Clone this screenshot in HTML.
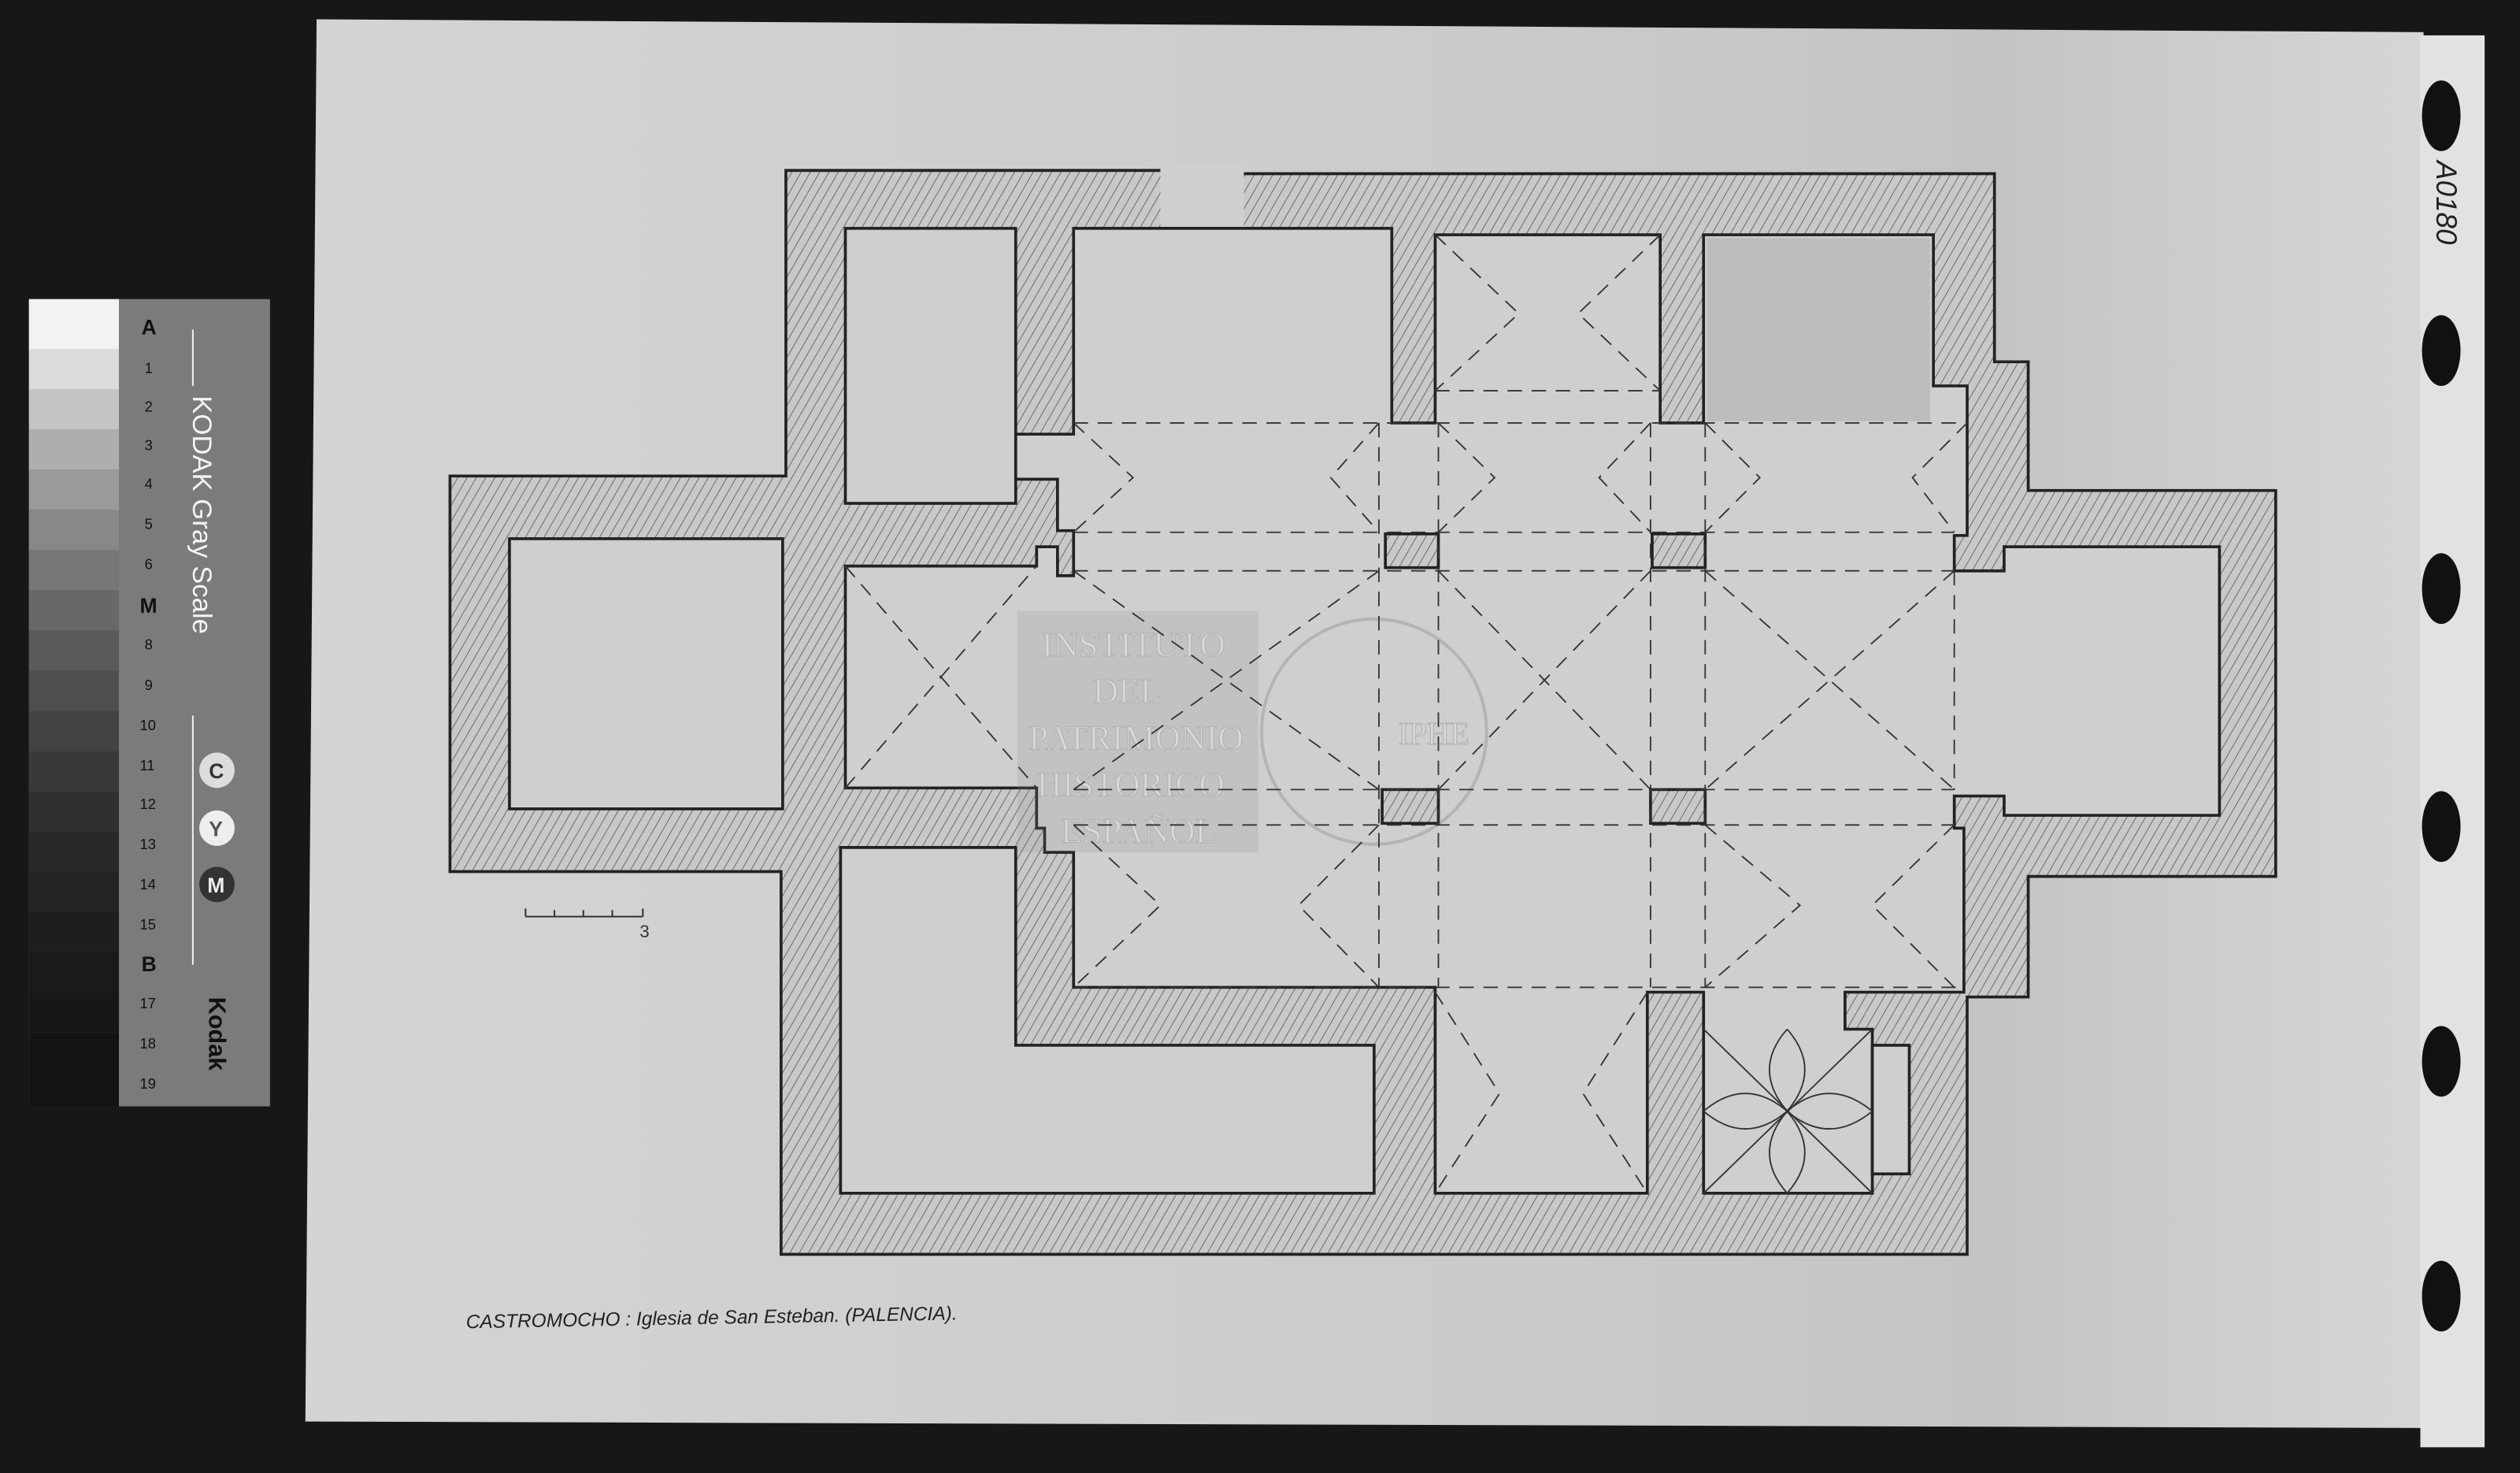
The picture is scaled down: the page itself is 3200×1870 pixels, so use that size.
<!DOCTYPE html>
<html><head><meta charset="utf-8"><style>
html,body{margin:0;padding:0;background:#161616;}
svg{display:block;}
</style></head><body>
<svg width="3200" height="1870" viewBox="0 0 1568 916" preserveAspectRatio="none" xmlns="http://www.w3.org/2000/svg">
<defs>
<pattern id="h" patternUnits="userSpaceOnUse" width="5" height="5" patternTransform="rotate(30)">
<rect width="5" height="5" fill="#c8c8c8"/><line x1="0" y1="0" x2="0" y2="5" stroke="#555" stroke-width="0.8"/>
</pattern>
<linearGradient id="pg" x1="0" x2="1" y1="0" y2="0">
<stop offset="0" stop-color="#d4d4d4"/><stop offset="0.55" stop-color="#cbcbcb"/><stop offset="0.8" stop-color="#c4c4c4"/><stop offset="1" stop-color="#d6d6d6"/>
</linearGradient>
</defs>
<rect width="1568" height="916" fill="#171717"/>
<polygon points="197,12 1508,20 1508,888 190,884" fill="url(#pg)"/>
<rect x="1506" y="22" width="40" height="878" fill="#e2e2e2"/>
<g fill="#111">
<ellipse cx="1519" cy="72" rx="12" ry="22"/><ellipse cx="1519" cy="218" rx="12" ry="22"/>
<ellipse cx="1519" cy="366" rx="12" ry="22"/><ellipse cx="1519" cy="514" rx="12" ry="22"/>
<ellipse cx="1519" cy="660" rx="12" ry="22"/><ellipse cx="1519" cy="806" rx="12" ry="22"/>
</g>
<text x="0" y="0" transform="translate(1516,100) rotate(90)" font-family="Liberation Sans,sans-serif" font-size="18" font-style="italic" fill="#222">A0180</text>

<g>
<rect x="18" y="186" width="150" height="502" fill="#7b7b7b"/>
<rect x="18" y="186" width="56" height="31" fill="#f2f2f2"/>
<rect x="18" y="217" width="56" height="25" fill="#dcdcdc"/>
<rect x="18" y="242" width="56" height="25" fill="#c4c4c4"/>
<rect x="18" y="267" width="56" height="25" fill="#aeaeae"/>
<rect x="18" y="292" width="56" height="25" fill="#9a9a9a"/>
<rect x="18" y="317" width="56" height="25" fill="#888"/>
<rect x="18" y="342" width="56" height="25" fill="#777"/>
<rect x="18" y="367" width="56" height="25" fill="#686868"/>
<rect x="18" y="392" width="56" height="25" fill="#5a5a5a"/>
<rect x="18" y="417" width="56" height="25" fill="#4e4e4e"/>
<rect x="18" y="442" width="56" height="25" fill="#434343"/>
<rect x="18" y="467" width="56" height="25" fill="#393939"/>
<rect x="18" y="492" width="56" height="25" fill="#303030"/>
<rect x="18" y="517" width="56" height="25" fill="#292929"/>
<rect x="18" y="542" width="56" height="25" fill="#232323"/>
<rect x="18" y="567" width="56" height="25" fill="#1e1e1e"/>
<rect x="18" y="592" width="56" height="25" fill="#1a1a1a"/>
<rect x="18" y="617" width="56" height="25" fill="#171717"/>
<rect x="18" y="642" width="56" height="46" fill="#141414"/>
<g font-family="Liberation Sans,sans-serif" fill="#111" font-size="9">
<text x="88" y="208" font-weight="bold" font-size="13">A</text>
<text x="90" y="232">1</text><text x="90" y="256">2</text><text x="90" y="280">3</text><text x="90" y="304">4</text><text x="90" y="329">5</text><text x="90" y="354">6</text>
<text x="87" y="381" font-weight="bold" font-size="13">M</text>
<text x="90" y="404">8</text><text x="90" y="429">9</text><text x="87" y="454">10</text><text x="87" y="479">11</text><text x="87" y="503">12</text><text x="87" y="528">13</text><text x="87" y="553">14</text><text x="87" y="578">15</text>
<text x="88" y="604" font-weight="bold" font-size="13">B</text>
<text x="87" y="627">17</text><text x="87" y="652">18</text><text x="87" y="677">19</text>
</g>
<text transform="translate(120,246) rotate(90)" font-family="Liberation Sans,sans-serif" font-size="17" fill="#f4f4f4">KODAK Gray Scale</text>
<line x1="120" y1="205" x2="120" y2="240" stroke="#eee" stroke-width="1"/>
<line x1="120" y1="445" x2="120" y2="600" stroke="#eee" stroke-width="1"/>
<circle cx="135" cy="479" r="11" fill="#ddd"/><text x="130" y="484" font-family="Liberation Sans" font-weight="bold" font-size="13" fill="#333">C</text>
<circle cx="135" cy="515" r="11" fill="#eee"/><text x="130" y="520" font-family="Liberation Sans" font-weight="bold" font-size="13" fill="#555">Y</text>
<circle cx="135" cy="550" r="11" fill="#333"/><text x="129" y="555" font-family="Liberation Sans" font-weight="bold" font-size="13" fill="#eee">M</text>
<text transform="translate(130,620) rotate(90)" font-family="Liberation Sans,sans-serif" font-weight="bold" font-size="15" fill="#111">Kodak</text>
</g>

<g stroke="#222" stroke-width="1.8" stroke-linejoin="miter">
<polygon fill="url(#h)" points="489,106 723,106 723,142 773,142 773,108 1241,108 1241,225 1262,225 1262,305 1416,305 1416,545 1262,545 1262,620 1224,620 1224,780 486,780 486,542 280,542 280,296 489,296"/>
<rect x="722" y="102" width="52" height="41" fill="#cfcfcf" stroke="none"/>
<g fill="#cfcfcf">
<rect x="317" y="335" width="170" height="168"/>
<rect x="526" y="142" width="106" height="171"/>
<polygon points="523,527 632,527 632,650 855,650 855,742 523,742"/>
<polygon points="668,142 866,142 866,263 893,263 893,146 1033,146 1033,263 1060,263 1060,146 1203,146 1203,240 1224,240 1224,333 1216,333 1216,355 1247,355 1247,340 1381,340 1381,507 1247,507 1247,495 1216,495 1216,515 1222,515 1222,617 1148,617 1148,640 1165,640 1165,742 1060,742 1060,617 1025,617 1025,742 893,742 893,614 668,614 668,530 650,530 650,515 645,515 645,490 526,490 526,352 645,352 645,340 658,340 658,358 668,358 668,330 658,330 658,298 632,298 632,270 668,270"/>
<rect x="1165" y="650" width="23" height="80"/>
</g>
<rect x="1062" y="148" width="139" height="114" fill="#bdbdbd" stroke="none"/>
<g fill="url(#h)">
<rect x="862" y="332" width="33" height="21"/><rect x="1028" y="332" width="33" height="21"/>
<rect x="860" y="491" width="35" height="21"/><rect x="1027" y="491" width="34" height="21"/>
</g>
</g>

<g opacity="0.3" font-family="Liberation Serif,serif" font-size="22" fill="#f0f0f0" stroke="#777" stroke-width="0.6">
<rect x="633" y="380" width="150" height="150" fill="#888" stroke="none" opacity="0.6"/>
<text x="648" y="408">INSTITUTO</text><text x="680" y="437">DEL</text><text x="640" y="466">PATRIMONIO</text><text x="645" y="495">HISTORICO</text><text x="660" y="524">ESPAÑOL</text>
<circle cx="855" cy="455" r="70" fill="none" stroke="#777" stroke-width="2"/>
<text x="870" y="463" font-size="20">IPHE</text>
</g>

<g stroke="#333" stroke-width="0.9" stroke-dasharray="9,6" fill="none">
<line x1="668" y1="263" x2="1224" y2="263"/><line x1="668" y1="331" x2="1216" y2="331"/>
<line x1="668" y1="355" x2="1216" y2="355"/><line x1="668" y1="491" x2="1216" y2="491"/>
<line x1="668" y1="513" x2="1216" y2="513"/><line x1="893" y1="243" x2="1033" y2="243"/>
<line x1="858" y1="263" x2="858" y2="614"/><line x1="895" y1="263" x2="895" y2="614"/>
<line x1="1027" y1="263" x2="1027" y2="614"/><line x1="1061" y1="263" x2="1061" y2="614"/>
<line x1="1216" y1="355" x2="1216" y2="491"/>
<line x1="668" y1="614" x2="1222" y2="614"/>
<polyline points="526,352 645,490"/><polyline points="526,490 645,352"/>
<polyline points="668,355 858,491"/><polyline points="858,355 668,491"/>
<polyline points="895,355 1027,491"/><polyline points="1027,355 895,491"/>
<polyline points="1061,355 1216,491"/><polyline points="1216,355 1061,491"/>
<polyline points="668,263 705,297 668,331"/><polyline points="858,263 828,297 858,331"/>
<polyline points="895,263 930,297 895,331"/><polyline points="1027,263 995,297 1027,331"/>
<polyline points="1061,263 1095,297 1061,331"/><polyline points="1224,263 1190,297 1216,331"/>
<polyline points="668,513 722,563 668,614"/><polyline points="858,513 808,563 858,614"/>
<polyline points="1061,513 1120,563 1061,614"/><polyline points="1216,513 1165,563 1216,614"/>
<polyline points="893,146 945,195 893,243"/><polyline points="1033,146 982,195 1033,243"/>
<polyline points="893,617 933,680 893,742"/><polyline points="1025,617 985,680 1025,742"/>
</g>
<g stroke="#333" stroke-width="0.9" fill="none">
<line x1="1060" y1="640" x2="1165" y2="742"/><line x1="1165" y1="640" x2="1060" y2="742"/>
<path d="M1112,640 Q1090,665 1112,691 Q1134,665 1112,640 M1112,742 Q1090,717 1112,691 Q1134,717 1112,742 M1060,691 Q1086,669 1112,691 Q1086,713 1060,691 M1165,691 Q1138,669 1112,691 Q1138,713 1165,691"/>
</g>

<g stroke="#333" stroke-width="1" fill="none">
<line x1="327" y1="570" x2="400" y2="570"/>
<line x1="327" y1="565" x2="327" y2="570"/><line x1="345" y1="566" x2="345" y2="570"/><line x1="363" y1="566" x2="363" y2="570"/><line x1="381" y1="566" x2="381" y2="570"/><line x1="400" y1="565" x2="400" y2="570"/>
</g>
<text x="398" y="583" font-family="Liberation Sans,sans-serif" font-size="11" fill="#333">3</text>

<text x="290" y="826" font-family="Liberation Sans,sans-serif" font-style="italic" font-size="12" fill="#222" transform="rotate(-1 290 826)">CASTROMOCHO : Iglesia de San Esteban. (PALENCIA).</text>
</svg>
</body></html>
